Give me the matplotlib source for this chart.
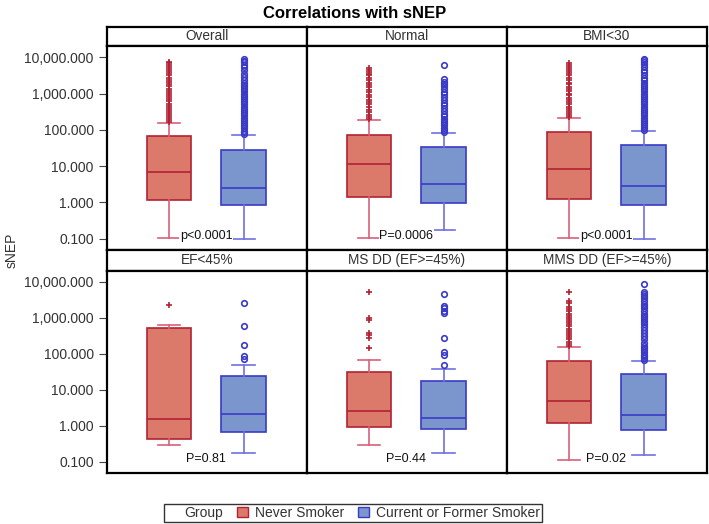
import numpy as np
import matplotlib
matplotlib.use("Agg")
import matplotlib.pyplot as plt
from matplotlib.patches import Patch
from matplotlib.ticker import FuncFormatter

plt.rcParams['font.family'] = ['Liberation Sans', 'DejaVu Sans']

panels = ["Overall", "Normal", "BMI<30", "EF<45%", "MS DD (EF>=45%)", "MMS DD (EF>=45%)"]
pvals = ["p<0.0001", "P=0.0006", "p<0.0001", "P=0.81", "P=0.44", "P=0.02"]
groups = ["Never Smoker", "Current or Former Smoker"]

# log10(sNEP) box stats: whisker low, q1, median, q3, whisker high
never = [
    (-0.99, 0.08, 0.84, 1.82, 2.20),
    (-0.99, 0.15, 1.06, 1.87, 2.26),
    (-0.99, 0.10, 0.91, 1.93, 2.32),
    (-0.53, -0.36, 0.19, 2.73, 2.79),
    (-0.53, -0.03, 0.42, 1.49, 1.84),
    (-0.94, 0.08, 0.69, 1.81, 2.20),
]
smoker = [
    (-1.00, -0.07, 0.41, 1.44, 1.85),
    (-0.76, -0.01, 0.52, 1.54, 1.92),
    (-1.00, -0.07, 0.44, 1.57, 1.97),
    (-0.75, -0.17, 0.34, 1.38, 1.70),
    (-0.76, -0.08, 0.22, 1.25, 1.59),
    (-0.80, -0.11, 0.31, 1.45, 1.81),
]

# outliers, log10(sNEP)
never_out = [
    [2.22, 2.28, 2.33, 2.37, 2.44, 2.5, 2.55, 2.61, 2.66, 2.72, 2.79, 2.85, 2.9, 2.96, 3.02,
     3.08, 3.13, 3.2, 3.26, 3.31, 3.38, 3.44, 3.5, 3.56, 3.62, 3.68, 3.73, 3.78, 3.83, 3.87],
    [2.3, 2.36, 2.42, 2.5, 2.55, 2.62, 2.7, 2.78, 2.83, 2.9, 2.97, 3.05, 3.1, 3.18,
     3.24, 3.3, 3.38, 3.44, 3.5, 3.55, 3.6, 3.65, 3.7],
    [2.35, 2.4, 2.46, 2.52, 2.58, 2.64, 2.7, 2.76, 2.82, 2.88, 2.95, 3.0, 3.06, 3.12,
     3.18, 3.25, 3.3, 3.37, 3.43, 3.5, 3.56, 3.62, 3.68, 3.74, 3.8, 3.85],
    [3.35],
    [2.17, 2.45, 2.51, 2.58, 2.95, 3.0, 3.72],
    [2.22, 2.28, 2.33, 2.4, 2.46, 2.52, 2.58, 2.63, 2.7, 2.76, 2.82, 2.88, 2.94, 3.0,
     3.06, 3.12, 3.18, 3.25, 3.3, 3.42, 3.48, 3.72],
]
smoker_out = [
    [1.88, 1.93, 1.98, 2.04, 2.1, 2.16, 2.22, 2.28, 2.34, 2.4, 2.46, 2.52, 2.58, 2.64, 2.7,
     2.76, 2.82, 2.88, 2.94, 3.0, 3.06, 3.12, 3.18, 3.24, 3.3, 3.38, 3.46, 3.55, 3.65, 3.72,
     3.8, 3.87, 3.91, 3.94],
    [1.95, 2.0, 2.06, 2.12, 2.18, 2.25, 2.3, 2.38, 2.45, 2.52, 2.6, 2.68, 2.75, 2.82,
     2.9, 2.98, 3.05, 3.12, 3.2, 3.27, 3.33, 3.39, 3.79],
    [2.0, 2.05, 2.1, 2.16, 2.22, 2.28, 2.34, 2.4, 2.46, 2.52, 2.58, 2.64, 2.7, 2.76, 2.82,
     2.88, 2.94, 3.0, 3.06, 3.12, 3.18, 3.24, 3.3, 3.36, 3.42, 3.5, 3.58, 3.66, 3.74, 3.82,
     3.88, 3.92, 3.95],
    [1.87, 1.93, 2.24, 2.77, 3.40],
    [1.68, 1.98, 2.04, 2.43, 3.14, 3.19, 3.26, 3.32, 3.65],
    [1.84, 1.88, 1.93, 1.98, 2.04, 2.1, 2.16, 2.22, 2.3, 2.4, 2.5, 2.58, 2.66, 2.74, 2.82,
     2.88, 2.94, 3.0, 3.06, 3.12, 3.2, 3.26, 3.32, 3.38, 3.46, 3.54, 3.6, 3.66, 3.72, 3.95],
]

red_fill, red_edge, red_whisk = "#DB7A6B", "#B22234", "#D9607A"
blue_fill, blue_edge, blue_whisk = "#7B96CD", "#3A3AC8", "#6F6FE0"

W, H = 709, 524
fig = plt.figure(figsize=(W / 100, H / 100), dpi=100)

col_x = [107, 307, 507]
pan_w = 200
rows = [(27, 46, 250), (250, 270.7, 473)]  # header top, axes top, axes bottom


def stat(v, fl):
    lo, q1, med, q3, hi = v
    return dict(whislo=10 ** lo, q1=10 ** q1, med=10 ** med, q3=10 ** q3, whishi=10 ** hi,
                fliers=10 ** np.array(fl))


for i, name in enumerate(panels):
    r, c = divmod(i, 3)
    htop, atop, abot = rows[r]
    x0 = col_x[c]
    # header strip
    hax = fig.add_axes([x0 / W, 1 - atop / H, pan_w / W, (atop - htop) / H])
    hax.set_xticks([]); hax.set_yticks([])
    for s in hax.spines.values():
        s.set_linewidth(1.6)
    hax.text(0.5, 0.5, name, ha="center", va="center", fontsize=9.8, color="#333333")

    ax = fig.add_axes([x0 / W, 1 - abot / H, pan_w / W, (abot - atop) / H])
    for s in ax.spines.values():
        s.set_linewidth(1.6)
    ax.set_yscale("log")
    ax.set_ylim(10 ** -1.31, 10 ** 4.31)
    ax.set_xlim(0.168, 2.852)
    for pos, v, fl, fc, ec, wc, mk in [
        (1, never[i], never_out[i], red_fill, red_edge, red_whisk, "+"),
        (2, smoker[i], smoker_out[i], blue_fill, blue_edge, blue_whisk, "o"),
    ]:
        ax.bxp([stat(v, fl)], positions=[pos], widths=0.6, patch_artist=True,
               boxprops=dict(facecolor=fc, edgecolor=ec, linewidth=1.2),
               medianprops=dict(color=ec, linewidth=1.2),
               whiskerprops=dict(color=wc, linewidth=1.2),
               capprops=dict(color=wc, linewidth=1.2), capwidths=0.3,
               flierprops=dict(marker=mk, markersize=4.5 if mk == "+" else 4,
                               markerfacecolor="none", markeredgecolor=ec,
                               markeredgewidth=1.2))
    ax.text(1.5, 10 ** -0.93, pvals[i], ha="center", va="center", fontsize=9,
            color="#111111", bbox=dict(facecolor="white", edgecolor="none", pad=0.5))
    ax.set_xticks([])
    ax.set_yticks([0.1, 1, 10, 100, 1000, 10000])
    ax.minorticks_off()
    if c == 0:
        ax.yaxis.set_major_formatter(FuncFormatter(lambda v, p: f"{v:,.3f}"))
        ax.tick_params(axis="y", labelsize=10, length=6, colors="#444444", labelcolor="#333333")
    else:
        ax.tick_params(axis="y", left=False, labelleft=False)

fig.text(12 / W, 1 - 250 / H, "sNEP", rotation=90, ha="center", va="center", fontsize=10,
         color="#333333")
fig.text(0.5, 1 - 13 / H, "Correlations with sNEP", ha="center", va="center",
         fontsize=12, fontweight="bold")

handles = [Patch(facecolor="none", edgecolor="none"),
           Patch(facecolor=red_fill, edgecolor=red_edge),
           Patch(facecolor=blue_fill, edgecolor=blue_edge)]
leg = fig.legend(handles, ["Group"] + groups, loc="center", ncol=3,
                 bbox_to_anchor=(353 / W, 1 - 513 / H), fontsize=10, frameon=True,
                 fancybox=False, handlelength=0.8, handleheight=0.8, handletextpad=0.5,
                 columnspacing=1.0, borderpad=0.15)
for t in leg.get_texts():
    t.set_color("#333333")
leg.get_frame().set_edgecolor("black")
leg.get_frame().set_linewidth(1.0)

fig.savefig("out.png", dpi=100)
